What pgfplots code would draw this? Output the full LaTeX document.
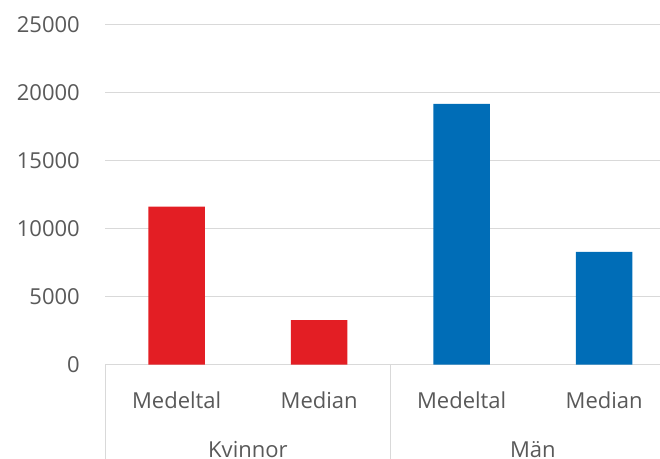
\documentclass[border=0pt]{standalone}
\usepackage{fontspec}
\setmainfont{Open Sans}
\usepackage{pgfplots}
\pgfplotsset{compat=1.18}
\definecolor{cred}{RGB}{227,30,36}
\definecolor{cblue}{RGB}{0,109,183}
\definecolor{ctext}{RGB}{89,89,89}
\definecolor{cgrid}{RGB}{217,217,217}
\begin{document}
\begin{tikzpicture}[x=1pt,y=1pt]
\useasboundingbox (0,0) rectangle (660,458);
\begin{axis}[
  at={(105.4pt,93.5pt)}, anchor=south west,
  width=570pt, height=340.2pt, scale only axis,
  xmin=-0.5, xmax=3.5, ymin=0, ymax=25000,
  ytick={0,5000,...,25000},
  xtick={0,1,2,3}, xticklabels={Medeltal,Median,Medeltal,Median},
  xtick pos=bottom, ytick pos=left,
  ymajorgrids, grid style={cgrid, line width=1pt},
  axis line style={draw=none},
  major tick length=0pt,
  extra x ticks={-0.5,1.5,3.5}, extra x tick labels={},
  extra x tick style={tick align=outside, major tick length=100pt, grid=none, tick style={cgrid, line width=1pt}},
  ticklabel style={font=\fontsize{22}{26}\selectfont, text=ctext, inner sep=0pt},
  /pgf/number format/assume math mode=true,
  /pgf/number format/1000 sep={},
  scaled y ticks=false,
  yticklabel style={anchor=east, xshift=-25.4pt},
  xticklabel style={anchor=base, yshift=-43.8pt},
  clip=false,
]
\addplot[ybar, bar width=56.4pt, bar shift=0pt, fill=cred, draw=none] coordinates {(0,11600) (1,3270)};
\addplot[ybar, bar width=56.4pt, bar shift=0pt, fill=cblue, draw=none] coordinates {(2,19150) (3,8270)};
\node[anchor=base, text=ctext, inner sep=0pt, font=\fontsize{22}{26}\selectfont] at (axis cs:0.5,0) [yshift=-93pt] {Kvinnor};
\node[anchor=base, text=ctext, inner sep=0pt, font=\fontsize{22}{26}\selectfont] at (axis cs:2.5,0) [yshift=-93pt] {Män};
\end{axis}
\end{tikzpicture}
\end{document}
